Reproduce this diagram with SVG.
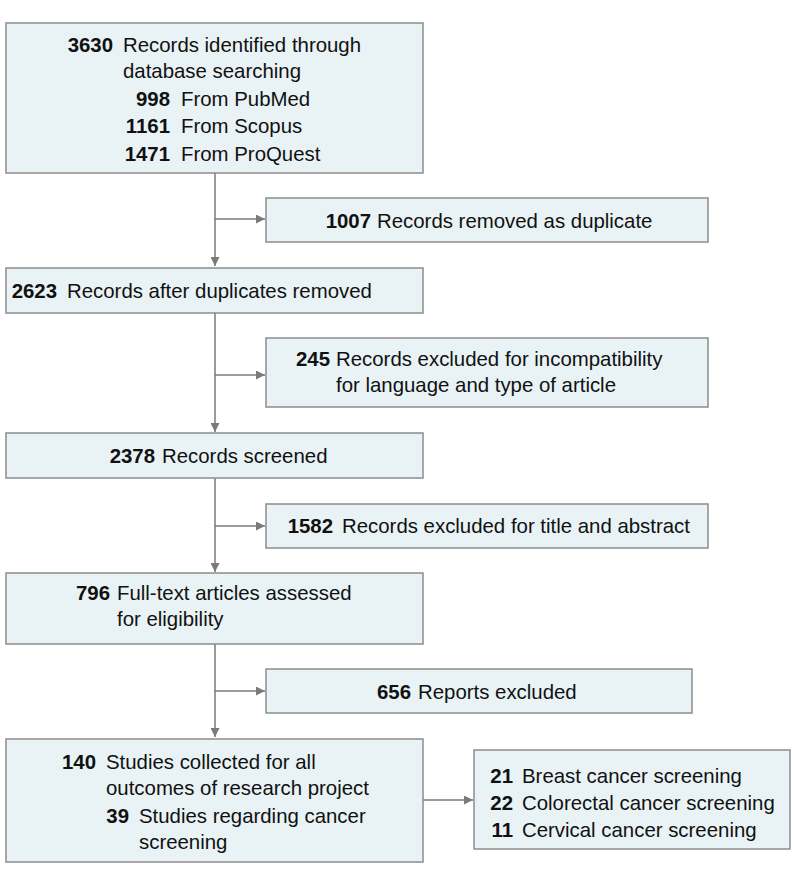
<svg xmlns="http://www.w3.org/2000/svg" width="794" height="881" viewBox="0 0 794 881">
<defs>
<style>
.box{fill:#e9f3f5;stroke:#8c8c8c;stroke-width:1.5}
.t{font-family:"Liberation Sans","Noto Sans",Arial,sans-serif;font-size:20.4px;fill:#111}
.n{font-weight:bold;text-anchor:end}
.c{fill:none;stroke:#7a7a7a;stroke-width:1.5}
</style>
<marker id="ah" viewBox="0 0 10 10" refX="10" refY="5" markerWidth="9" markerHeight="9" markerUnits="userSpaceOnUse" orient="auto">
<path d="M0,0 L10,5 L0,10 z" fill="#7a7a7a"/>
</marker>
</defs>
<rect width="794" height="881" fill="#fff"/>
<g id="connectors">
<path class="c" d="M215,173 V266" marker-end="url(#ah)"/>
<path class="c" d="M215,219 H265" marker-end="url(#ah)"/>
<path class="c" d="M215,313 V432" marker-end="url(#ah)"/>
<path class="c" d="M215,375 H265" marker-end="url(#ah)"/>
<path class="c" d="M215,478 V572" marker-end="url(#ah)"/>
<path class="c" d="M215,526 H265" marker-end="url(#ah)"/>
<path class="c" d="M215,644 V737" marker-end="url(#ah)"/>
<path class="c" d="M215,691 H265" marker-end="url(#ah)"/>
<path class="c" d="M423,800 H473" marker-end="url(#ah)"/>
</g>
<g id="n3630">
<rect class="box" x="6" y="23" width="417" height="150"/>
<text class="t n" x="113" y="52">3630</text>
<text class="t" x="123" y="52">Records identified through</text>
<text class="t" x="123" y="78">database searching</text>
<text class="t n" x="170" y="106">998</text>
<text class="t" x="181" y="106">From PubMed</text>
<text class="t n" x="170" y="133">1161</text>
<text class="t" x="181" y="133">From Scopus</text>
<text class="t n" x="170" y="161">1471</text>
<text class="t" x="181" y="161">From ProQuest</text>
</g>
<g id="n1007">
<rect class="box" x="266" y="198" width="442" height="44"/>
<text class="t n" x="371" y="228">1007</text>
<text class="t" x="377" y="228">Records removed as duplicate</text>
</g>
<g id="n2623">
<rect class="box" x="6" y="268" width="417" height="45"/>
<text class="t n" x="57" y="298">2623</text>
<text class="t" x="67" y="298">Records after duplicates removed</text>
</g>
<g id="n245">
<rect class="box" x="266" y="338" width="442" height="69"/>
<text class="t n" x="330" y="366">245</text>
<text class="t" x="336" y="366">Records excluded for incompatibility</text>
<text class="t" x="336" y="392">for language and type of article</text>
</g>
<g id="n2378">
<rect class="box" x="6" y="433" width="417" height="45"/>
<text class="t n" x="155" y="463">2378</text>
<text class="t" x="162" y="463">Records screened</text>
</g>
<g id="n1582">
<rect class="box" x="266" y="504" width="442" height="44"/>
<text class="t n" x="333" y="533">1582</text>
<text class="t" x="342" y="533">Records excluded for title and abstract</text>
</g>
<g id="n796">
<rect class="box" x="6" y="573" width="417" height="71"/>
<text class="t n" x="110" y="600">796</text>
<text class="t" x="117" y="600">Full-text articles assessed</text>
<text class="t" x="117" y="626">for eligibility</text>
</g>
<g id="n656">
<rect class="box" x="266" y="669" width="426" height="44"/>
<text class="t n" x="411" y="699">656</text>
<text class="t" x="418" y="699">Reports excluded</text>
</g>
<g id="n140">
<rect class="box" x="6" y="739" width="417" height="123"/>
<text class="t n" x="96" y="769">140</text>
<text class="t" x="106" y="769">Studies collected for all</text>
<text class="t" x="106" y="795">outcomes of research project</text>
<text class="t n" x="129" y="823">39</text>
<text class="t" x="139" y="823">Studies regarding cancer</text>
<text class="t" x="139" y="849">screening</text>
</g>
<g id="n21">
<rect class="box" x="474" y="750" width="316" height="99"/>
<text class="t n" x="513" y="783">21</text>
<text class="t" x="522" y="783">Breast cancer screening</text>
<text class="t n" x="513" y="810">22</text>
<text class="t" x="522" y="810">Colorectal cancer screening</text>
<text class="t n" x="513" y="837">11</text>
<text class="t" x="522" y="837">Cervical cancer screening</text>
</g>
</svg>
